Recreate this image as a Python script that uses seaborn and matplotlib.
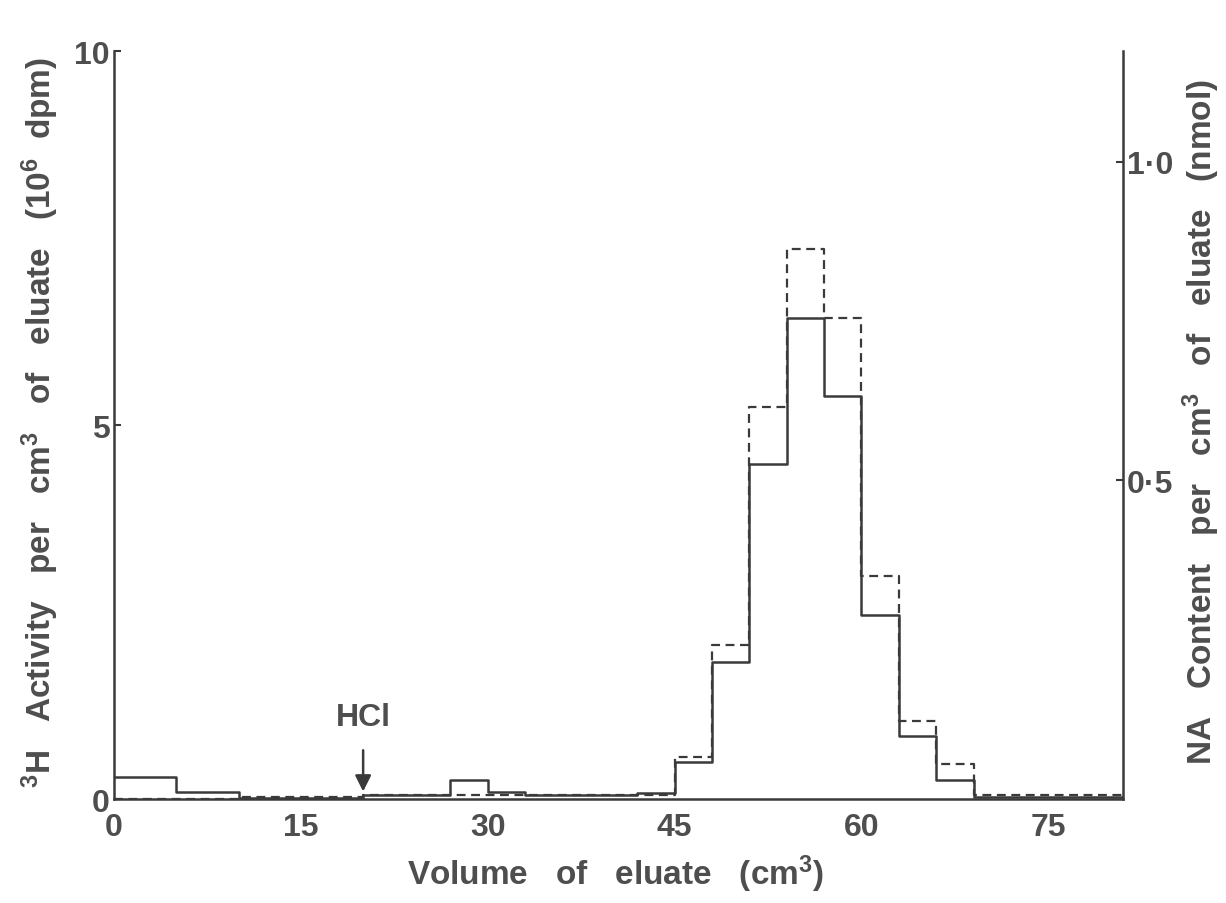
import matplotlib
matplotlib.use("Agg")
import matplotlib.pyplot as plt
import seaborn as sns
import pandas as pd
import numpy as np

# ---- data ----
edges = [0, 5, 10, 20, 27, 30, 33, 42, 45, 48, 51, 54, 57, 60, 63, 66, 69, 81]
activity_3h = [0.30, 0.10, 0.02, 0.05, 0.25, 0.10, 0.05, 0.08,
               0.49, 1.83, 4.48, 6.43, 5.39, 2.46, 0.84, 0.25, 0.03]
na_content = [0.0, 0.0, 0.003, 0.006, 0.006, 0.006, 0.006, 0.006,
              0.066, 0.242, 0.615, 0.863, 0.755, 0.350, 0.122, 0.055, 0.006]
x_ticks = [0, 15, 30, 45, 60, 75]
left_ticks = [0, 5, 10]
right_ticks = [0.5, 1.0]
right_tick_labels = ["0·5", "1·0"]

sns.set_theme(style="white")
plt.rcParams["font.family"] = ["Liberation Sans", "DejaVu Sans"]
plt.rcParams["font.weight"] = "bold"
plt.rcParams["mathtext.fontset"] = "custom"
plt.rcParams["mathtext.rm"] = "Liberation Sans:bold"
plt.rcParams["mathtext.bf"] = "Liberation Sans:bold"
plt.rcParams["mathtext.default"] = "bf"

INK = "#3a3a3a"
TXT = "#4e4e4e"

df_a = pd.DataFrame({"x": edges, "y": activity_3h + [activity_3h[-1]]})
df_n = pd.DataFrame({"x": edges, "y": na_content + [na_content[-1]]})

fig = plt.figure(figsize=(12.26, 9.04), dpi=100)
ax = fig.add_axes([114 / 1226, 1 - 800 / 904, (1123 - 114) / 1226, (800 - 52) / 904])
ax2 = ax.twinx()

sns.lineplot(data=df_a, x="x", y="y", ax=ax, drawstyle="steps-post",
             estimator=None, sort=False, color=INK, linewidth=1.8)
sns.lineplot(data=df_n, x="x", y="y", ax=ax2, drawstyle="steps-post",
             estimator=None, sort=False, color=INK, linewidth=1.6,
             linestyle=(0, (4, 2.5)))

ax.set_xlim(0, 81)
ax.set_ylim(0, 10)
ax2.set_ylim(0, 1.174)

for a in (ax, ax2):
    a.spines["top"].set_visible(False)
    for s in ("left", "right", "bottom"):
        a.spines[s].set_color(INK)
        a.spines[s].set_linewidth(1.8)
    a.set_facecolor("none")
ax2.spines["left"].set_visible(False)
ax2.spines["bottom"].set_visible(False)
ax.spines["right"].set_visible(False)

ax.set_xticks(x_ticks)
ax.set_xticklabels([str(t) for t in x_ticks])
ax.set_yticks(left_ticks)
ax.set_yticklabels([str(t) for t in left_ticks])
ax2.set_yticks(right_ticks)
ax2.set_yticklabels(right_tick_labels)

ax.tick_params(axis="x", direction="out", length=5, width=1.5, colors=INK,
               labelsize=23, labelcolor=TXT, pad=4)
ax.tick_params(axis="y", direction="in", length=5, width=1.5, colors=INK,
               labelsize=23, labelcolor=TXT, pad=3)
ax2.tick_params(axis="y", direction="in", length=5, width=1.5, colors=INK,
                labelsize=23, labelcolor=TXT, pad=3)
for lab in ax.get_xticklabels() + ax.get_yticklabels() + ax2.get_yticklabels():
    lab.set_fontweight("bold")

ax.set_xlabel(r"Volume   of   eluate   (cm$^{3}$)", fontsize=24, color=TXT,
              fontweight="bold")
ax.xaxis.set_label_coords(0.497, -0.072)
ax.set_ylabel(r"$^{3}$H   Activity   per   cm$^{3}$   of   eluate   (10$^{6}$  dpm)",
              fontsize=24, color=TXT, fontweight="bold")
ax2.set_ylabel(r"NA   Content   per   cm$^{3}$   of   eluate   (nmol)",
               fontsize=24, color=TXT, fontweight="bold")
ax.yaxis.set_label_coords(-0.053, 0.505)
ax2.yaxis.set_label_coords(1.057, 0.505)

ax.annotate("HCl", xy=(20, 0.1), xytext=(20, 1.1), ha="center", va="center",
            fontsize=23, fontweight="bold", color=TXT,
            arrowprops=dict(arrowstyle="-|>", color=INK, lw=1.8,
                            mutation_scale=24, shrinkA=11, shrinkB=0))

fig.savefig("out.png", dpi=100, facecolor="white")
